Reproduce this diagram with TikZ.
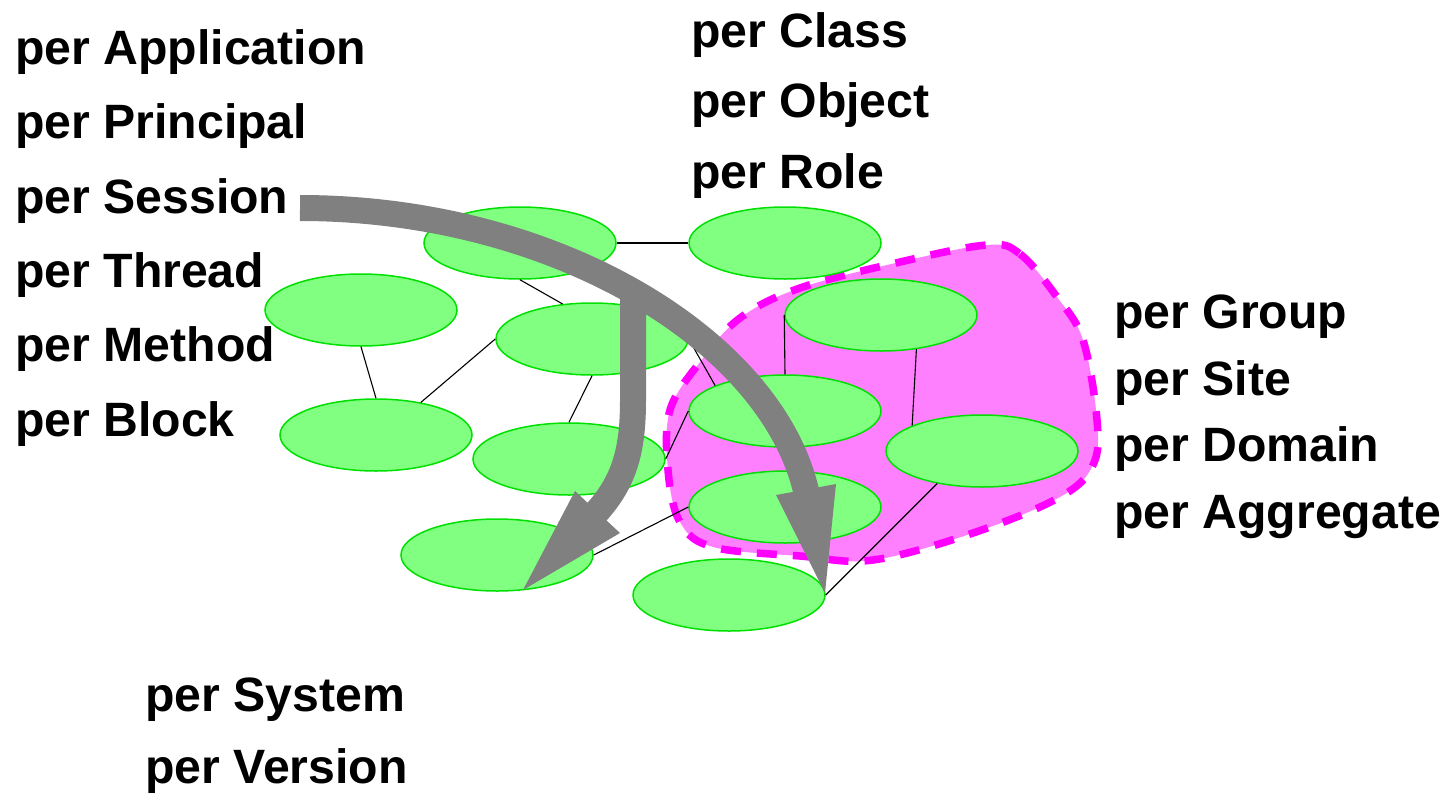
\documentclass[tikz,border=0pt]{standalone}
\usepackage{fontspec}
\setmainfont{Liberation Sans}
\usetikzlibrary{shapes.geometric}
\definecolor{nodefill}{HTML}{80FF80}
\definecolor{nodeline}{HTML}{00E000}
\definecolor{blobfill}{HTML}{FF80FF}
\definecolor{blobline}{HTML}{FF00FF}
\definecolor{arrowgray}{HTML}{808080}
\begin{document}
\begin{tikzpicture}[x=1pt,y=-1pt,
  obj/.style={ellipse, draw=nodeline, fill=nodefill, line width=1.5pt,
    minimum width=192pt, minimum height=72pt, inner sep=0pt},
  lbl/.style={anchor=base west, inner sep=0pt,
    font=\fontsize{48.2pt}{58pt}\selectfont\bfseries},
  link/.style={draw=black, line width=1.1pt},
  blob/.style={fill=blobfill, draw=blobline, line width=7.5pt,
    dash pattern=on 20pt off 16pt},
  shaft/.style={draw=arrowgray, line width=26pt},
  head/.style={fill=arrowgray}]
\useasboundingbox (0,0) rectangle (1446,793);

% group region
\draw[blob] plot[smooth cycle, tension=0.6] coordinates {
  (987,245) (1020,254) (1057,297) (1083,340) (1097,420) (1093,465)
  (1060,497) (973,533) (873,560) (800,556) (713,547) (680,522)
  (668,470) (670,410) (700,362) (740,318) (800,288) (900,262)};

% labels
\node[lbl] (tApp)  at (15,64)  {per Application};
\node[lbl] (tPri)  at (15,138) {per Principal};
\node[lbl] (tSes)  at (15,213) {per Session};
\node[lbl] (tThr)  at (15,287) {per Thread};
\node[lbl] (tMet)  at (15,361) {per Method};
\node[lbl] (tBlk)  at (15,436) {per Block};
\node[lbl] (tCls)  at (691,47)  {per Class};
\node[lbl] (tObj)  at (691,117) {per Object};
\node[lbl] (tRol)  at (691,188) {per Role};
\node[lbl] (tGrp)  at (1114,328) {per Group};
\node[lbl] (tSit)  at (1114,395) {per Site};
\node[lbl] (tDom)  at (1114,461) {per Domain};
\node[lbl] (tAgg)  at (1114,528) {per Aggregate};
\node[lbl] (tSys)  at (145,711) {per System};
\node[lbl] (tVer)  at (145,783) {per Version};

% objects
\node[obj] (a) at (520,243) {};
\node[obj] (b) at (361,310) {};
\node[obj] (c) at (592,339) {};
\node[obj] (d) at (376,435) {};
\node[obj] (e) at (569,459) {};
\node[obj] (f) at (497,555) {};
\node[obj] (g) at (729,595) {};
\node[obj] (h) at (785,243) {};
\node[obj] (i) at (881,315) {};
\node[obj] (j) at (785,411) {};
\node[obj] (k) at (982,451) {};
\node[obj] (l) at (785,507) {};

% links
\draw[link] (a.east) -- (h.west);
\draw[link] (a.south) -- (c.130);
\draw[link] (b.south) -- (d.north);
\draw[link] (c.west) -- (d.36);
\draw[link] (c.south) -- (e.north);
\draw[link] (c.east) -- (j.160);
\draw[link] (e.east) -- (j.west);
\draw[link] (f.east) -- (l.west);
\draw[link] (g.east) -- (k.216);
\draw[link] (i.west) -- (j.north);
\draw[link] (i.-44) -- (k.160);

% gray arrows
\coordinate (s1) at (300,208);
\coordinate (e1) at (808,500);
\draw[shaft] (s1) .. controls (560,208) and (779,345) .. (e1);
\fill[head] (776,495) -- (825,593) -- (836,484) -- cycle;

\coordinate (s2) at (633,290);
\coordinate (e2) at (592,517);
\draw[shaft] (s2) -- (633,400) .. controls (633,450) and (625,483) .. (e2);
\fill[head] (575,491) -- (523,590) -- (620,533) -- cycle;
\end{tikzpicture}
\end{document}
